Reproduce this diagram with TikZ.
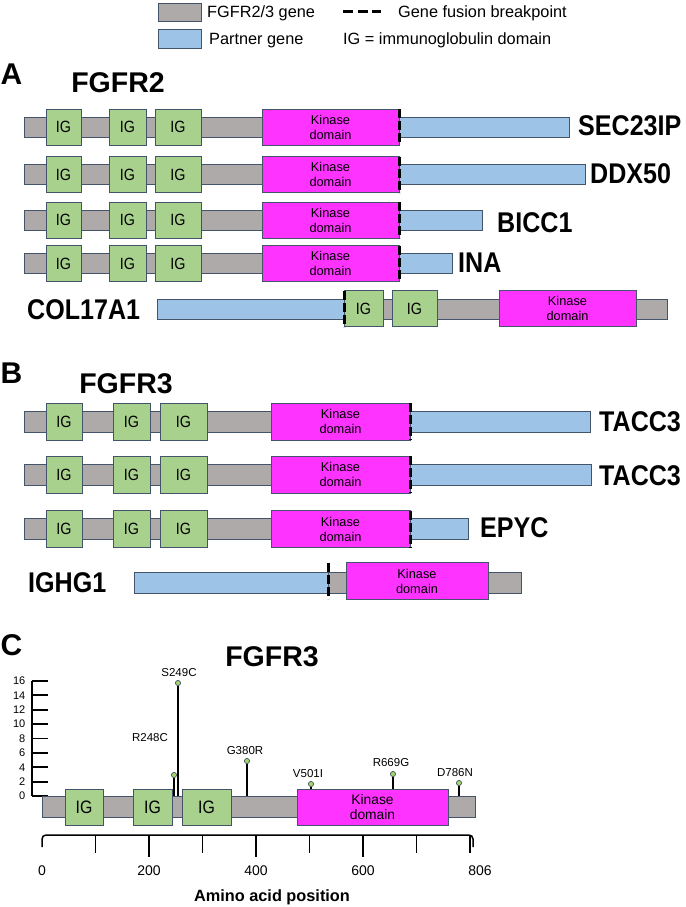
\documentclass[tikz,border=0pt]{standalone}
\usepackage{fontspec}
\setmainfont{Liberation Sans}
\newfontfamily\cond{Liberation Sans}[FakeStretch=0.88]
\definecolor{fgfr}{HTML}{AEAAAA}
\definecolor{partner}{HTML}{9DC3E6}
\definecolor{igc}{HTML}{A9D18E}
\definecolor{kinc}{HTML}{FF33FF}
\definecolor{edgec}{HTML}{44546A}
\definecolor{dotc}{HTML}{A5D86A}
\newcommand{\fs}[1]{\fontsize{#1}{#1}\selectfont}
% name, style, x1, x2, yc, height, text
\newcommand{\bx}[7]{\node[#2, minimum width={(#4-#3)*1pt}, minimum height={#6*1pt}] (#1) at ({(#3+#4)/2},#5) {#7};}
\tikzset{
  base/.style={draw=edgec, line width=0.8pt, inner sep=0pt, outer sep=0pt},
  gbar/.style={base, fill=fgfr},
  pbar/.style={base, fill=partner},
  igbox/.style={base, fill=igc, font=\cond\fs{16.3}},
  igboxc/.style={base, fill=igc, font=\cond\fs{18}},
  kinbox/.style={base, fill=kinc, align=center, font=\fontsize{12.8}{15}\selectfont},
  kinboxc/.style={base, fill=kinc, align=center, font=\fontsize{13.8}{15.5}\selectfont},
  brk/.style={line width=3pt, dash pattern=on 9pt off 3pt},
  gene/.style={anchor=west, inner sep=0pt, font=\cond\bfseries\fs{28.5}},
  hdr/.style={inner sep=0pt, font=\bfseries\fs{28.5}},
  panel/.style={anchor=west, inner sep=0pt, font=\bfseries\fs{30}},
  leg/.style={anchor=base west, inner sep=0pt, font=\fs{16.3}},
  mut/.style={inner sep=0pt, font=\fs{11.5}},
  ylab/.style={anchor=east, inner sep=0pt, font=\fs{11}},
  xlab/.style={inner sep=0pt, font=\fs{14}},
  dotn/.style={circle, draw=edgec, line width=0.6pt, fill=dotc, minimum size=5pt, inner sep=0pt},
  stem/.style={line width=1.8pt},
  axisl/.style={line width=1.8pt},
}
% panel A row: name, yc, blue end
\newcommand{\rowA}[3]{%
  \bx{#1g}{gbar}{24}{399}{#2}{20}{}
  \bx{#1p}{pbar}{399}{#3}{#2}{20}{}
  \bx{#1i1}{igbox}{46}{81}{#2}{36}{IG}
  \bx{#1i2}{igbox}{109}{146}{#2}{36}{IG}
  \bx{#1i3}{igbox}{155}{201}{#2}{36}{IG}
  \bx{#1k}{kinbox}{262}{399}{#2}{36}{Kinase\\domain}
  \draw[brk] (#1k.north east) -- (#1k.south east);}
% panel B row: name, yc, blue end
\newcommand{\rowB}[3]{%
  \bx{#1g}{gbar}{24}{410}{#2}{21}{}
  \bx{#1p}{pbar}{410}{#3}{#2}{21}{}
  \bx{#1i1}{igbox}{46}{82}{#2}{37}{IG}
  \bx{#1i2}{igbox}{113}{150}{#2}{37}{IG}
  \bx{#1i3}{igbox}{160}{207}{#2}{37}{IG}
  \bx{#1k}{kinbox}{271}{410}{#2}{37}{Kinase\\domain}
  \draw[brk] (#1k.north east) -- (#1k.south east);}
\begin{document}
\begin{tikzpicture}[x=1pt,y=-1pt]
\useasboundingbox (0,0) rectangle (685,907);
% legend
\bx{lg}{gbar}{158}{201}{12}{18}{}
\bx{lp}{pbar}{158}{201}{38.5}{19}{}
\node[leg] (lgt) at (207,18) {FGFR2/3 gene};
\node[leg] (lpt) at (209,45) {Partner gene};
\coordinate (d1) at (343,12);
\coordinate (d2) at (381,12);
\draw[line width=3pt, dash pattern=on 10pt off 4.5pt] (d1) -- (d2);
\node[leg] (lbt) at (398,18) {Gene fusion breakpoint};
\node[leg] (lit) at (343,45) {IG = immunoglobulin domain};
% panel A
\node[panel] (pa) at (0.5,74.5) {A};
\node[hdr] (ha) at (118,83) {FGFR2};
\rowA{a1}{127}{569}
\node[gene] (ga1) at (578,126) {SEC23IP};
\rowA{a2}{174.5}{585}
\node[gene] (ga2) at (590,174) {DDX50};
\rowA{a3}{220}{482}
\node[gene] (ga3) at (497,223) {BICC1};
\rowA{a4}{263.5}{452}
\node[gene] (ga4) at (458,263) {INA};
% COL17A1
\bx{a5g}{gbar}{344}{667}{309}{20}{}
\bx{a5p}{pbar}{157}{344}{309}{20}{}
\bx{a5i1}{igbox}{344}{383}{308.5}{36}{IG}
\bx{a5i2}{igbox}{392}{437}{308.5}{36}{IG}
\bx{a5k}{kinbox}{499}{636}{308.5}{36}{Kinase\\domain}
\draw[brk] (a5i1.north west) -- (a5i1.south west);
\node[gene] (ga5) at (27,310) {COL17A1};
% panel B
\node[panel] (pb) at (0.5,373) {B};
\node[hdr] (hb) at (126,383.5) {FGFR3};
\rowB{b1}{421.5}{590}
\node[gene] (gb1) at (599,422) {TACC3};
\rowB{b2}{474.5}{591}
\node[gene] (gb2) at (599,476) {TACC3};
\rowB{b3}{529}{468}
\node[gene] (gb3) at (480,528) {EPYC};
% IGHG1
\bx{b4g}{gbar}{328}{521}{582.5}{21}{}
\bx{b4p}{pbar}{134}{328}{582.5}{21}{}
\bx{b4k}{kinbox}{346}{488}{581}{37}{Kinase\\domain}
\coordinate (b4t) at (328,563);
\coordinate (b4b) at (328,599);
\draw[brk] (b4t) -- (b4b);
\node[gene] (gb4) at (28,583) {IGHG1};
% panel C
\node[panel] (pc) at (0.5,645) {C};
\node[hdr] (hc) at (272,657) {FGFR3};
% y axis
\coordinate (yt) at (32,681);
\coordinate (y0) at (32,796);
\draw[axisl] (yt) -- (y0);
\foreach \v in {0,2,...,16} {
  \draw[axisl] (32,{796-7.1875*\v}) -- (48,{796-7.1875*\v});
  \node[ylab] (yl\v) at (25.5,{796-7.1875*\v}) {\v};
}
% protein bar
\bx{cg}{gbar}{42}{475}{806.5}{21}{}
\bx{ci1}{igboxc}{65}{103}{807}{36}{IG}
\bx{ci2}{igboxc}{133}{172}{807}{36}{IG}
\bx{ci3}{igboxc}{182}{231}{807}{36}{IG}
\bx{ck}{kinboxc}{297}{448}{807}{36}{Kinase\\domain}
% lollipops
\coordinate (m1b) at (178,796);
\coordinate (m2b) at (174,796);
\coordinate (m3b) at (247,796);
\coordinate (m4b) at (311,789);
\coordinate (m5b) at (393,789);
\coordinate (m6b) at (459,796);
\node[dotn] (m1) at (178,683) {};
\node[dotn] (m2) at (174,775) {};
\node[dotn] (m3) at (247,761) {};
\node[dotn] (m4) at (311,784) {};
\node[dotn] (m5) at (393,774) {};
\node[dotn] (m6) at (459,783) {};
\foreach \i in {1,...,6} { \draw[stem] (m\i.south) -- (m\i b); }
\foreach \i in {1,...,6} { \node[dotn] at (m\i) {}; }
\node[mut] (l1) at (179,673) {S249C};
\node[mut] (l2) at (150,738) {R248C};
\node[mut] (l3) at (245,751) {G380R};
\node[mut] (l4) at (308,774) {V501I};
\node[mut] (l5) at (391,763) {R669G};
\node[mut] (l6) at (455,773) {D786N};
% x axis
\coordinate (xa) at (42,847);
\coordinate (xb) at (42,835);
\coordinate (xc) at (473,835);
\coordinate (xd) at (473,847);
\draw[line width=1.5pt, rounded corners=4pt] (xa) -- (xb) -- (xc) -- (xd);
\foreach \v in {100,300,500,700,800} { \draw[line width=1.5pt] ({42+0.535*\v},835) -- ({42+0.535*\v},853); }
\foreach \v in {200,400,600} { \draw[line width=1.5pt] ({42+0.535*\v},835) -- ({42+0.535*\v},857); }
\node[xlab] (x0) at (42,871) {0};
\node[xlab] (x200) at (149,871) {200};
\node[xlab] (x400) at (256,871) {400};
\node[xlab] (x600) at (363,871) {600};
\node[xlab] (x806) at (480,871) {806};
\node[anchor=base, inner sep=0pt, font=\bfseries\fs{16.3}] (xt) at (272,901) {Amino acid position};
\end{tikzpicture}
\end{document}
